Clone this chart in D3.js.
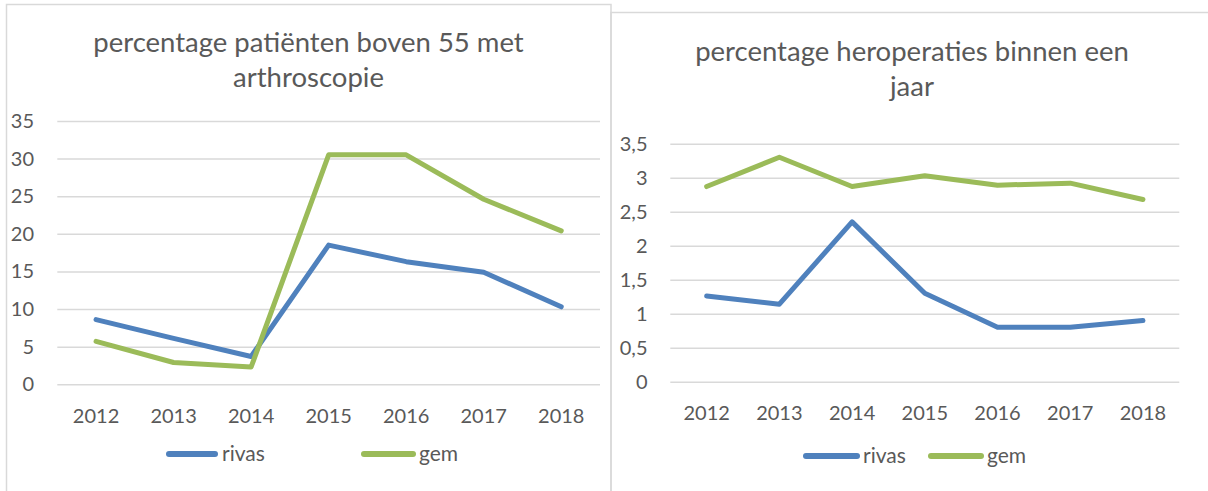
<!DOCTYPE html>
<html lang="nl">

<head>
    <meta charset="utf-8">
    <title>arthroscopie en heroperaties</title>
    <script src="https://cdn.jsdelivr.net/npm/d3@7/dist/d3.min.js"></script>
    <style>
        body {
            margin: 0;
            background: #fff;
        }

        text {
            font-family: Lato, "Open Sans", sans-serif;
            fill: #595959;
        }
    </style>
</head>

<body>
    <script>
        // data
        var years = ['2012', '2013', '2014', '2015', '2016', '2017', '2018'];
        var seriesNames = ['rivas', 'gem'];

        var arthroRivas = [8.6, 6.1, 3.7, 18.5, 16.3, 14.9, 10.3];
        var arthroGem = [5.7, 2.9, 2.3, 30.5, 30.5, 24.6, 20.4];
        var arthroTicks = [0, 5, 10, 15, 20, 25, 30, 35];

        var reopRivas = [1.26, 1.14, 2.35, 1.30, 0.80, 0.80, 0.90];
        var reopGem = [2.87, 3.30, 2.87, 3.03, 2.89, 2.92, 2.68];
        var reopTicks = [0, 0.5, 1, 1.5, 2, 2.5, 3, 3.5];

        var colors = ['#4f81bd', '#9bbb59'];

        var svg = d3.select('body')
            .append('svg')
            .attr('width', 1208)
            .attr('height', 491);

        // komma als decimaalteken
        var fmt = function (v) { return String(v).replace('.', ','); };

        function drawChart(cfg) {
            var g = svg.append('g');

            // kader
            g.append('rect')
                .attr('x', cfg.box[0])
                .attr('y', cfg.box[1])
                .attr('width', cfg.box[2])
                .attr('height', cfg.box[3])
                .attr('fill', 'none')
                .attr('stroke', '#d9d9d9')
                .attr('stroke-width', 1.5);

            // titel
            g.append('g').selectAll('text')
                .data(cfg.title)
                .enter().append('text')
                .attr('x', cfg.titleX)
                .attr('y', (d, i) => cfg.titleY + i * 35)
                .attr('text-anchor', 'middle')
                .style('font-size', '27.5px')
                .text(d => d);

            var x = d3.scaleBand()
                .domain(years)
                .range(cfg.xRange);
            var y = d3.scaleLinear()
                .domain([0, d3.max(cfg.ticks)])
                .range(cfg.yRange);

            // y-as met rasterlijnen
            var yAxis = g.append('g')
                .attr('transform', `translate(${cfg.xRange[0]}, 0)`)
                .call(d3.axisLeft(y)
                    .tickValues(cfg.ticks)
                    .tickFormat(fmt)
                    .tickSize(-(cfg.xRange[1] - cfg.xRange[0]))
                    .tickPadding(cfg.xRange[0] - cfg.yLabelX));
            yAxis.select('.domain').remove();
            yAxis.selectAll('line')
                .attr('stroke', '#d9d9d9')
                .attr('stroke-width', 1.5);
            yAxis.selectAll('text')
                .attr('fill', '#595959')
                .style('font-size', '20px')
                .style('font-family', 'Lato, "Open Sans", sans-serif');

            // x-as
            var xAxis = g.append('g')
                .attr('transform', `translate(0, ${cfg.yRange[0]})`)
                .call(d3.axisBottom(x).tickSize(0).tickPadding(cfg.xPad));
            xAxis.select('.domain').remove();
            xAxis.selectAll('text')
                .attr('fill', '#595959')
                .style('font-size', '20px')
                .style('font-family', 'Lato, "Open Sans", sans-serif');

            var line = d3.line()
                .x((d, i) => x(years[i]) + x.bandwidth() / 2)
                .y(d => y(d));

            g.selectAll('path.serie')
                .data(cfg.series)
                .enter().append('path')
                .attr('class', 'serie')
                .attr('d', d => line(d))
                .attr('fill', 'none')
                .attr('stroke', (d, i) => colors[i])
                .attr('stroke-width', 5)
                .attr('stroke-linejoin', 'round')
                .attr('stroke-linecap', 'round');

            // legenda
            var leg = g.append('g').selectAll('g')
                .data(seriesNames)
                .enter().append('g');
            leg.append('line')
                .attr('x1', (d, i) => cfg.legend[i][0])
                .attr('x2', (d, i) => cfg.legend[i][1])
                .attr('y1', cfg.legendY)
                .attr('y2', cfg.legendY)
                .attr('stroke', (d, i) => colors[i])
                .attr('stroke-width', 6)
                .attr('stroke-linecap', 'round');
            leg.append('text')
                .attr('x', (d, i) => cfg.legend[i][2])
                .attr('y', cfg.legendY + 7)
                .style('font-size', '21px')
                .text(d => d);
        }

        drawChart({
            box: [6.5, 4.5, 604.5, 520],
            title: ['percentage patiënten boven 55 met', 'arthroscopie'],
            titleX: 308.5,
            titleY: 52,
            xRange: [57.3, 600],
            yRange: [384.3, 121],
            ticks: arthroTicks,
            yLabelX: 34,
            xPad: 24.5,
            series: [arthroRivas, arthroGem],
            legend: [[169, 215, 222], [364, 413, 419]],
            legendY: 454
        });

        drawChart({
            box: [611, 12.5, 620, 520],
            title: ['percentage heroperaties binnen een', 'jaar'],
            titleX: 912,
            titleY: 61,
            xRange: [670.3, 1179.3],
            yRange: [381.7, 143.7],
            ticks: reopTicks,
            yLabelX: 647.5,
            xPad: 24,
            series: [reopRivas, reopGem],
            legend: [[806, 857, 863], [931, 981, 987]],
            legendY: 456
        });
    </script>
</body>

</html>
